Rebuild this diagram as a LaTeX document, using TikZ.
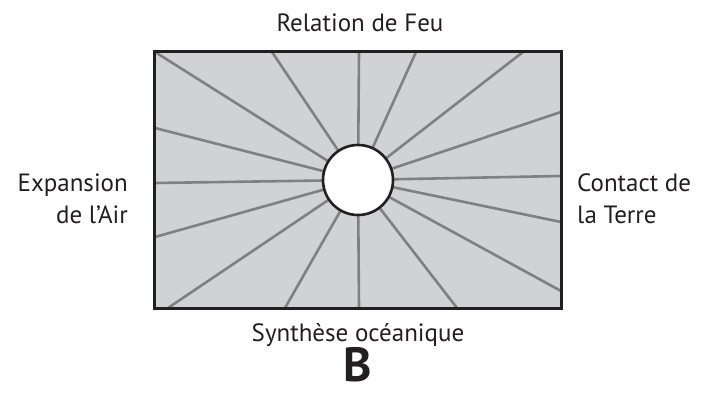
\documentclass[tikz,border=0pt]{standalone}
\usepackage{fontspec}
\setmainfont{PT Sans}
\definecolor{panelfill}{RGB}{209,210,212}
\definecolor{raycol}{RGB}{128,128,128}
\definecolor{edgecol}{RGB}{35,31,32}
\tikzset{
  ray/.style={draw=raycol, line width=2.6pt},
  label/.style={font=\fontsize{25}{31}\selectfont, text=edgecol, inner sep=0pt},
}
\begin{document}
\begin{tikzpicture}[x=1pt,y=-1pt]
\useasboundingbox (0,0) rectangle (702,403);
\fill[white] (0,0) rectangle (702,403);
\node[draw=none, inner sep=0pt, minimum width=406pt, minimum height=256pt, fill=panelfill] (panel) at (358,180) {};
\coordinate (c) at (358,180);
% rays
\foreach \px/\py [count=\i] in {155/52, 272/52, 359/52, 416/52, 523/52,
  561/112, 561/176, 561/222, 561/291,
  457/308, 359/308, 285/308, 168/308,
  155/237, 155/183, 155/128}{
  \coordinate (e\i) at (\px,\py);
  \draw[ray] (c) -- (e\i);
}
\draw[edgecol, line width=3.2pt] (panel.north west) rectangle (panel.south east);
\node[circle, draw=edgecol, fill=white, line width=2.6pt, minimum size=70pt, inner sep=0pt] (hub) at (c) {};
% labels
\node[label, anchor=base] (top) at (360,32) {Relation de Feu};
\node[label, anchor=base] (bottom) at (358,342) {Synthèse océanique};
\node[label, anchor=base east] (left1) at (128,192) {Expansion};
\node[label, anchor=base east] (left2) at (128,224) {de l\char"0027 Air};
\node[label, anchor=base west] (right1) at (577,192) {Contact de};
\node[label, anchor=base west] (right2) at (577,224) {la Terre};
\node[font=\fontsize{48}{54}\selectfont\bfseries, text=edgecol, inner sep=0pt, anchor=base] (B) at (358,382) {B};
\end{tikzpicture}
\end{document}
